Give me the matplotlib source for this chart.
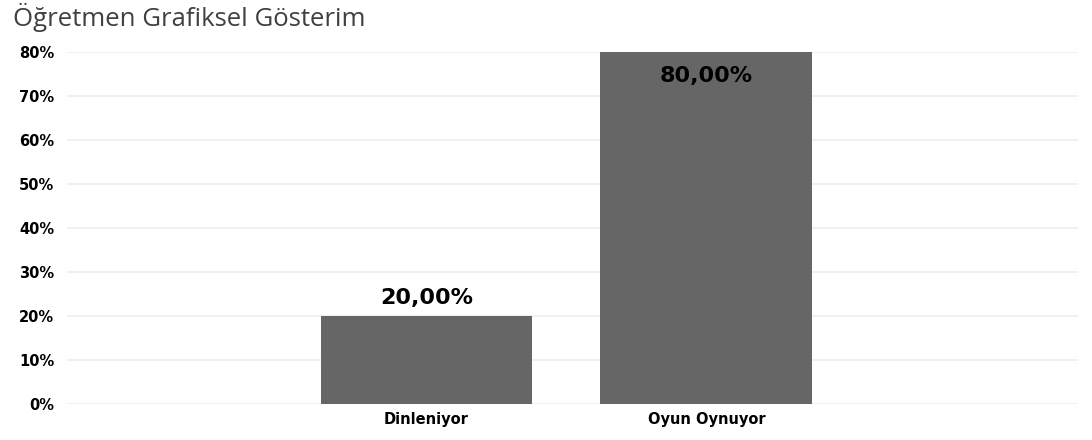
import matplotlib
matplotlib.use("Agg")
import matplotlib.pyplot as plt
from matplotlib.ticker import FuncFormatter

categories = ["Dinleniyor", "Oyun Oynuyor"]
values = [0.20, 0.80]
yticks = [0.0, 0.1, 0.2, 0.3, 0.4, 0.5, 0.6, 0.7, 0.8]
title = "Öğretmen Grafiksel Gösterim"

fig = plt.figure(figsize=(10.92, 4.40), dpi=100)
ax = fig.add_axes([67/1092, 36/440, 1011/1092, 352/440])

x = list(range(len(categories)))
bars = ax.bar(x, values, width=0.757, color="#666666", zorder=3)

ax.set_xlim(-1.284, 2.327)
ax.set_ylim(0, 0.8)
ax.set_yticks(yticks)
ax.yaxis.set_major_formatter(FuncFormatter(lambda v, p: f"{v*100:.0f}%"))
ax.set_xticks(x)
ax.set_xticklabels(categories)

for lbl in ax.get_yticklabels():
    lbl.set_fontweight("bold")
    lbl.set_fontsize(10.5)
    lbl.set_family("DejaVu Sans")
for lbl in ax.get_xticklabels():
    lbl.set_fontweight("bold")
    lbl.set_fontsize(10.5)
    lbl.set_family("DejaVu Sans")

ax.tick_params(axis="y", length=0, pad=9, colors="#000000")
ax.tick_params(axis="x", length=0, pad=6, colors="#000000")
ax.grid(axis="y", color="#eeeeee", linewidth=1.2, zorder=0)
for s in ax.spines.values():
    s.set_visible(False)

for xi, v in zip(x, values):
    txt = f"{v*100:.2f}%".replace(".", ",")
    if v > 0.5:
        ax.annotate(txt, (xi, v), xytext=(0, -17.5), textcoords="offset points",
                    ha="center", va="center", fontsize=16, fontweight="bold",
                    color="#000000", zorder=4)
    else:
        ax.annotate(txt, (xi, v), xytext=(0, 13), textcoords="offset points",
                    ha="center", va="center", fontsize=16, fontweight="bold",
                    color="#000000", zorder=4)

fig.text(13/1092, 1 - 17/440, title, ha="left", va="center", fontsize=18.5,
         color="#404040", family="Open Sans")

fig.savefig("out.png", dpi=100, facecolor="white")
